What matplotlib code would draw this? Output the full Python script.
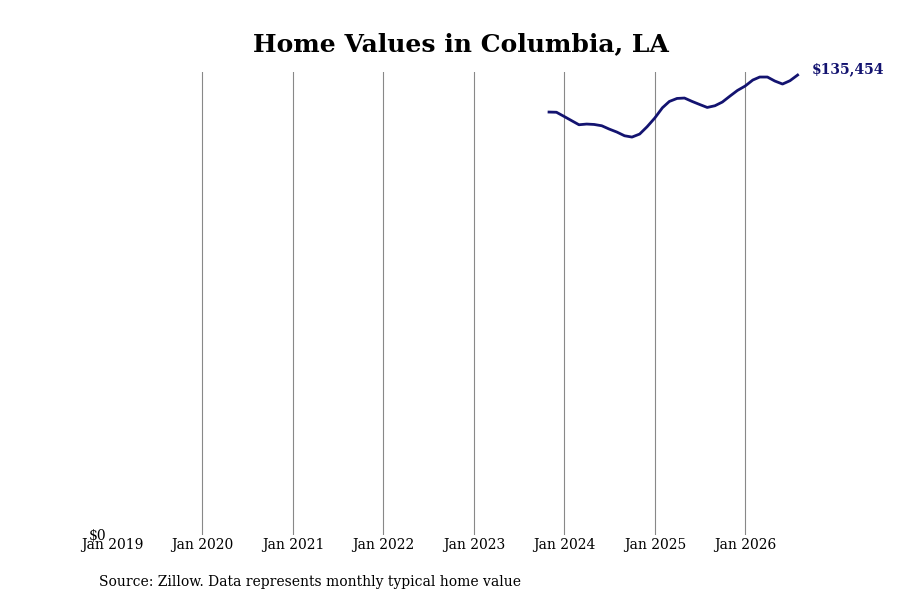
import numpy as np
import pandas as pd
import matplotlib
matplotlib.use("Agg")
import matplotlib.pyplot as plt
import matplotlib.dates as mdates

# monthly typical home value, Nov 2023 - Aug 2026
months = pd.date_range("2023-11-01", "2026-08-01", freq="MS")
values = [124553, 124494, 123256, 121989, 120811, 121017, 120899, 120516,
          119544, 118660, 117569, 117186, 118070, 120221, 122785, 125820,
          127676, 128560, 128678, 127676, 126792, 125908, 126409, 127499,
          129267, 130917, 132214, 133982, 134866, 134866, 133687, 132803,
          133776, 135454]
tick_years = list(range(2019, 2027))
tick_labels = ["Jan %d" % y for y in tick_years]
title = "Home Values in Columbia, LA"
source = "Source: Zillow. Data represents monthly typical home value"
line_color = "#131370"

plt.rcParams["font.family"] = "DejaVu Serif"

fig = plt.figure(figsize=(9, 6), dpi=100)
ax = fig.add_axes([112 / 900, 65 / 600, (810 - 112) / 900, (535 - 72) / 600])

ax.plot(months, values, color=line_color, linewidth=2)

ticks = [pd.Timestamp("%d-01-01" % y) for y in tick_years]
ax.set_xticks(ticks)
ax.set_xticklabels(tick_labels, fontsize=10)
ax.set_xlim(pd.Timestamp("2019-01-01"), pd.Timestamp("2026-09-20"))
ax.set_ylim(0, max(values) * 1.0066)
ax.set_yticks([0])
ax.set_yticklabels(["$0"], fontsize=10)
ax.tick_params(axis="x", length=0, pad=2)
ax.tick_params(axis="y", length=0, pad=4)

for s in ax.spines.values():
    s.set_visible(False)
for t in ticks[1:]:
    ax.axvline(t, color="#888888", linewidth=0.8, zorder=0)

ax.annotate("${:,}".format(values[-1]), xy=(months[-1], values[-1]),
            xytext=(10, 4), textcoords="offset points",
            color=line_color, fontsize=10, fontweight="bold", va="center")

fig.text(461 / 900, 1 - 44 / 600, title, ha="center", va="center",
         fontsize=18, fontweight="bold")
fig.text(99 / 900, 1 - 582 / 600, source, ha="left", va="center", fontsize=10)

fig.savefig("out.png", dpi=100)
